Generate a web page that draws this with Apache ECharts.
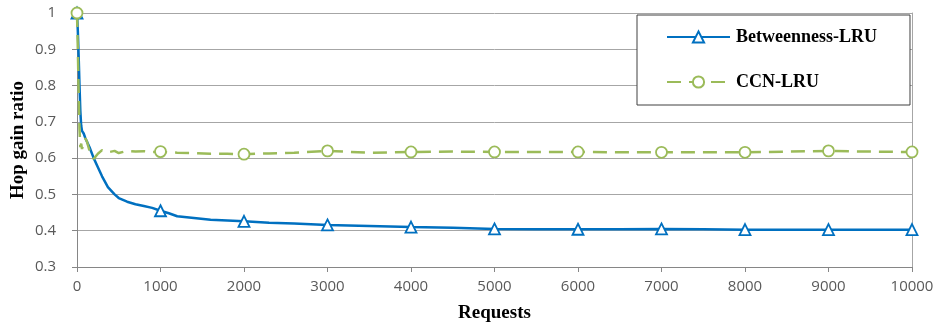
<!DOCTYPE html>
<html>
<head>
<meta charset="utf-8">
<script src="https://cdn.jsdelivr.net/npm/echarts@6/dist/echarts.min.js"></script>
<style>html,body{margin:0;padding:0;background:#fff}#c{width:935px;height:322px}</style>
</head>
<body>
<div id="c"></div>
<script>
const requests = [0, 10, 20, 30, 40, 50, 60, 80, 100, 120, 150, 200, 250, 300, 370, 450, 500, 600, 700, 800, 900, 1000, 1100, 1200, 1400, 1600, 1800, 2000, 2300, 2600, 3000, 3500, 4000, 4500, 5000, 5500, 6000, 6500, 7000, 7500, 8000, 8500, 9000, 9500, 10000];
const betweennessLRU = [1, 0.95, 0.88, 0.8, 0.73, 0.69, 0.675, 0.668, 0.655, 0.645, 0.63, 0.6, 0.575, 0.55, 0.52, 0.5, 0.49, 0.48, 0.473, 0.468, 0.463, 0.455, 0.448, 0.44, 0.435, 0.43, 0.428, 0.426, 0.422, 0.42, 0.416, 0.413, 0.41, 0.408, 0.405, 0.404, 0.404, 0.404, 0.405, 0.404, 0.403, 0.403, 0.403, 0.403, 0.403];
const ccnLRU = [1, 0.9, 0.78, 0.68, 0.63, 0.64, 0.625, 0.645, 0.655, 0.645, 0.62, 0.598, 0.612, 0.622, 0.616, 0.62, 0.614, 0.62, 0.618, 0.619, 0.617, 0.618, 0.616, 0.615, 0.614, 0.612, 0.612, 0.611, 0.613, 0.615, 0.62, 0.615, 0.617, 0.618, 0.617, 0.617, 0.617, 0.616, 0.616, 0.616, 0.616, 0.618, 0.62, 0.618, 0.617];
const markerRequests = [0, 1000, 2000, 3000, 4000, 5000, 6000, 7000, 8000, 9000, 10000];
const xTicks = {min: 0, max: 10000, interval: 1000};
const yTicks = {min: 0.3, max: 1, interval: 0.1};
const seriesNames = ['Betweenness-LRU', 'CCN-LRU'];

function build(vals) {
  return requests.map((r, i) => markerRequests.includes(r)
    ? {value: [r, vals[i]]}
    : {value: [r, vals[i]], symbol: 'none'});
}

const blue = '#0070C0', green = '#9BBB59';
const chart = echarts.init(document.getElementById('c'), null, {renderer: 'canvas'});
chart.setOption({
  animation: false,
  backgroundColor: '#fff',
  grid: {left: 77, right: 23, top: 13, bottom: 55, containLabel: false, outerBoundsMode: 'none'},
  legend: {
    left: 637, top: 15, orient: 'vertical',
    padding: [13, 33, 14, 29],
    itemWidth: 63, itemHeight: 14, itemGap: 27,
    borderColor: '#404040', borderWidth: 1, backgroundColor: '#fff',
    textStyle: {fontFamily: 'Liberation Serif', fontWeight: 'bold', fontSize: 18, color: '#000', lineHeight: 18, padding: [0, 0, 0, 1]},
    data: seriesNames
  },
  xAxis: {
    type: 'value', min: xTicks.min, max: xTicks.max, interval: xTicks.interval,
    name: 'Requests', nameLocation: 'middle', nameGap: 37,
    nameTextStyle: {fontFamily: 'Liberation Serif', fontWeight: 'bold', fontSize: 19, color: '#000'},
    axisLine: {show: true, lineStyle: {color: '#868686', width: 1}},
    axisTick: {show: true, length: 5, lineStyle: {color: '#868686'}},
    axisLabel: {fontFamily: 'Open Sans', fontSize: 15, color: '#595959', margin: 12,
      formatter: v => String(v)},
    splitLine: {show: false}
  },
  yAxis: [{
    type: 'value', min: yTicks.min, max: yTicks.max, interval: yTicks.interval,
    name: 'Hop gain ratio', nameLocation: 'middle', nameGap: 49, nameRotate: 90,
    nameMoveOverlap: false,
    nameTextStyle: {fontFamily: 'Liberation Serif', fontWeight: 'bold', fontSize: 19, color: '#000'},
    axisLine: {show: true, lineStyle: {color: '#868686', width: 1}},
    axisTick: {show: true, length: 5, lineStyle: {color: '#868686'}},
    axisLabel: {fontFamily: 'Open Sans', fontSize: 15, color: '#595959', margin: 21,
      formatter: v => String(Math.round(v * 10) / 10)},
    splitLine: {show: true, lineStyle: {color: '#a6a6a6', width: 1}}
  }, {
    type: 'value', min: yTicks.min, max: yTicks.max, position: 'right',
    axisLine: {show: true, onZero: false, lineStyle: {color: '#a6a6a6', width: 1}},
    axisTick: {show: false}, axisLabel: {show: false}, splitLine: {show: false}
  }],
  series: [{
    name: seriesNames[0], type: 'line', data: build(betweennessLRU),
    symbol: 'triangle', symbolSize: 11, showAllSymbol: true,
    lineStyle: {color: blue, width: 2.5},
    itemStyle: {color: '#fff', borderColor: blue, borderWidth: 1.8},
    z: 3
  }, {
    name: seriesNames[1], type: 'line', data: build(ccnLRU),
    symbol: 'circle', symbolSize: 11, showAllSymbol: true,
    lineStyle: {color: green, width: 2.5, type: [14, 8]},
    itemStyle: {color: '#fff', borderColor: green, borderWidth: 1.8},
    z: 4
  }]
});
</script>
</body>
</html>
